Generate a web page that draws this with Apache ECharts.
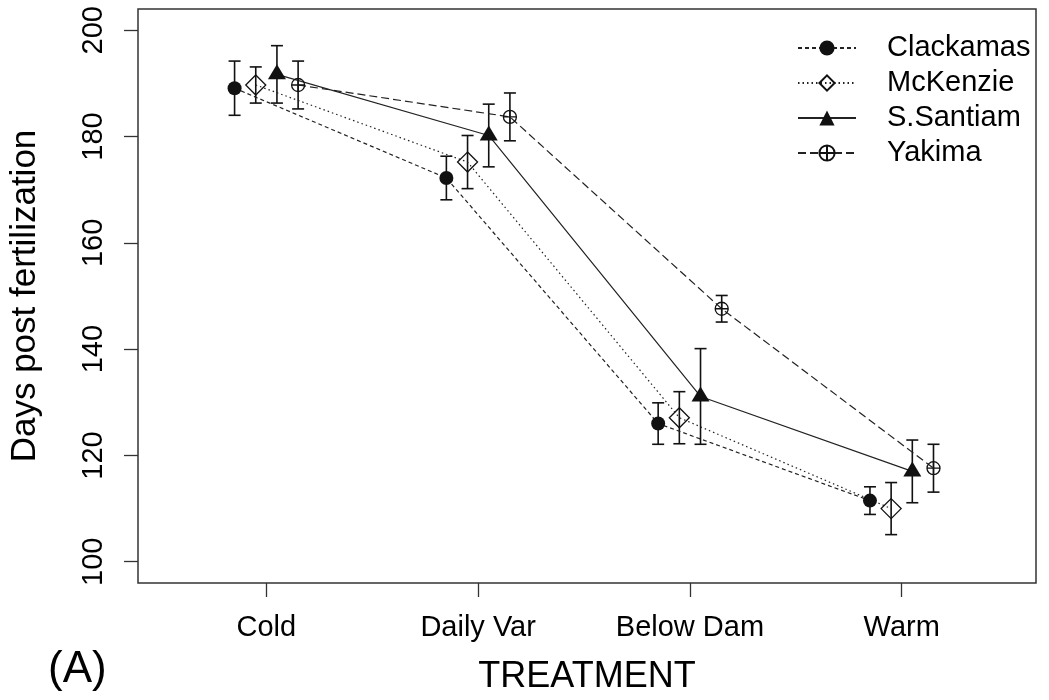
<!DOCTYPE html>
<html>
<head>
<meta charset="utf-8">
<script src="https://cdn.jsdelivr.net/npm/echarts@6/dist/echarts.min.js"></script>
<style>
  html, body { margin: 0; padding: 0; background: #fff; }
  #chart { width: 1049px; height: 700px; }
</style>
</head>
<body>
<div id="chart"></div>
<script>
// Days post fertilization (mean ± error) by rearing treatment and population
const treatments = ['Cold', 'Daily Var', 'Below Dam', 'Warm'];
const sites = ['Clackamas', 'McKenzie', 'S.Santiam', 'Yakima'];

const clackamasMean = [189.1, 172.2, 126.0, 111.5];
const clackamasErr  = [5.1, 4.1, 3.9, 2.6];
const mckenzieMean  = [189.7, 175.2, 127.1, 110.0];
const mckenzieErr   = [3.4, 5.0, 4.9, 4.9];
const santiamMean   = [191.7, 180.2, 131.1, 117.0];
const santiamErr    = [5.4, 5.9, 9.0, 5.9];
const yakimaMean    = [189.7, 183.7, 147.6, 117.6];
const yakimaErr     = [4.5, 4.5, 2.5, 4.5];

const yTicks = [100, 120, 140, 160, 180, 200];
const xTicks = [1, 2, 3, 4];

const FONT = "'Liberation Sans', Arial, sans-serif";
const INK = '#111';

// horizontal dodge so the four populations don't overlap at each treatment
const dodge = [-0.15, -0.05, 0.05, 0.15];

const plusCircle = 'path://M12,2 A10,10 0 1,1 12,22 A10,10 0 1,1 12,2 Z M2,12 L22,12 M12,2 L12,22';

const styles = [
  { symbol: 'circle', symbolSize: 14, symbolOffset: [0, 0],
    item: { color: INK, borderWidth: 0 }, dash: [4, 3] },
  { symbol: 'diamond', symbolSize: 20, symbolOffset: [0, 0],
    item: { color: 'rgba(0,0,0,0)', borderColor: INK, borderWidth: 1.3 }, dash: [1.5, 3] },
  { symbol: 'triangle', symbolSize: [18, 15], symbolOffset: [0, -2.5],
    item: { color: INK, borderWidth: 0 }, dash: 'solid' },
  { symbol: plusCircle, symbolSize: 13, symbolOffset: [0, 0],
    item: { color: 'rgba(0,0,0,0)', borderColor: INK, borderWidth: 1.3 }, dash: [8, 4] }
];

const means = [clackamasMean, mckenzieMean, santiamMean, yakimaMean];
const errs  = [clackamasErr, mckenzieErr, santiamErr, yakimaErr];

function renderErrorBar(params, api) {
  const x = api.value(0);
  const lo = api.coord([x, api.value(1)]);
  const hi = api.coord([x, api.value(2)]);
  const cap = 6;
  const st = { stroke: INK, lineWidth: 1.6 };
  return {
    type: 'group',
    children: [
      { type: 'line', shape: { x1: lo[0], y1: lo[1], x2: hi[0], y2: hi[1] }, style: st },
      { type: 'line', shape: { x1: lo[0] - cap, y1: lo[1], x2: lo[0] + cap, y2: lo[1] }, style: st },
      { type: 'line', shape: { x1: hi[0] - cap, y1: hi[1], x2: hi[0] + cap, y2: hi[1] }, style: st }
    ]
  };
}

const series = [];
sites.forEach((name, s) => {
  const st = styles[s];
  const pts = means[s].map((m, i) => [xTicks[i] + dodge[s], m]);
  const bars = means[s].map((m, i) => [xTicks[i] + dodge[s], m - errs[s][i], m + errs[s][i]]);
  series.push({
    name: name + ' error',
    type: 'custom',
    renderItem: renderErrorBar,
    data: bars,
    z: 2,
    silent: true
  });
  series.push({
    name: name,
    type: 'line',
    data: pts,
    symbol: st.symbol,
    symbolSize: st.symbolSize,
    symbolOffset: st.symbolOffset,
    showAllSymbol: true,
    itemStyle: st.item,
    lineStyle: { color: '#222', width: 1.2, type: st.dash },
    z: 3,
    silent: true
  });
});

const chart = echarts.init(document.getElementById('chart'), null, { renderer: 'canvas' });
chart.setOption({
  animation: false,
  backgroundColor: '#fff',
  textStyle: { fontFamily: FONT },
  grid: {
    left: 127, right: 13, top: 9, bottom: 116,
    show: true, borderColor: '#333', borderWidth: 1.5, backgroundColor: 'transparent'
  },
  legend: {
    data: sites,
    orient: 'vertical',
    left: 792, top: 28,
    itemWidth: 58, itemHeight: 19, itemGap: 5,
    selectedMode: false,
    textStyle: { fontFamily: FONT, fontSize: 29, color: '#000', lineHeight: 30, padding: [0, 0, 0, 26] }
  },
  xAxis: {
    type: 'value',
    min: 0.394, max: 4.634,
    axisLine: { show: false },
    splitLine: { show: false },
    axisTick: { show: true, inside: false, length: 14, customValues: xTicks,
      lineStyle: { color: '#333', width: 1.3 } },
    axisLabel: {
      customValues: xTicks, margin: 30,
      fontFamily: FONT, fontSize: 29, color: '#000',
      formatter: v => treatments[Math.round(v) - 1] || ''
    },
    name: 'TREATMENT',
    nameLocation: 'middle',
    nameGap: 76,
    nameTextStyle: { fontFamily: FONT, fontSize: 36, color: '#000', verticalAlign: 'top' }
  },
  yAxis: {
    type: 'value',
    min: 96, max: 204,
    axisLine: { show: false },
    splitLine: { show: false },
    axisTick: { show: true, inside: false, length: 14, customValues: yTicks,
      lineStyle: { color: '#333', width: 1.3 } },
    axisLabel: {
      customValues: yTicks, rotate: 90, margin: 30,
      fontFamily: FONT, fontSize: 29, color: '#000'
    },
    name: 'Days post fertilization',
    nameLocation: 'middle',
    nameRotate: 90,
    nameGap: 95,
    nameTextStyle: { fontFamily: FONT, fontSize: 35, color: '#000' }
  },
  graphic: [{
    type: 'text',
    left: 48, top: 648,
    style: { text: '(A)', fontFamily: FONT, fontSize: 44, fill: '#000' }
  }],
  series: series
});
</script>
</body>
</html>
